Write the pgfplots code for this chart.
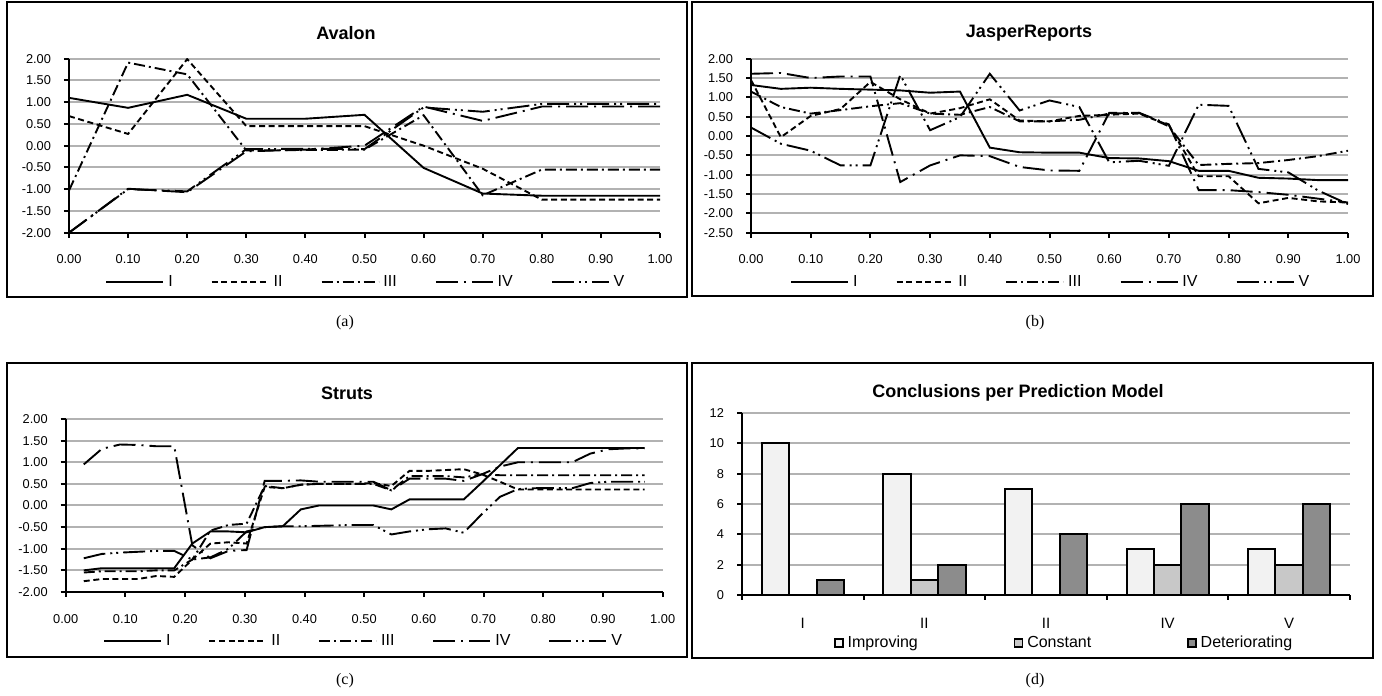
\documentclass[border=0pt]{standalone}
\usepackage{pgfplots}
\pgfplotsset{compat=1.18}
\usepackage{pgfplotstable}
\usepackage{fontspec}
\setmainfont{Liberation Sans}
\newfontfamily\capfont{Liberation Serif}

\definecolor{gridc}{RGB}{178,178,178}
\definecolor{impc}{RGB}{242,242,242}
\definecolor{conc}{RGB}{200,200,200}
\definecolor{detc}{RGB}{140,140,140}

\pgfplotstableread{
x I II III IV V
0.0 1.10 0.68 -1.03 -2.00 -2.00
0.1 0.87 0.27 1.91 -0.99 -1.00
0.2 1.17 1.99 1.64 -1.07 -1.05
0.3 0.62 0.45 -0.11 -0.13 -0.08
0.4 0.62 0.45 -0.10 -0.09 -0.07
0.5 0.71 0.45 -0.09 0.00 -0.08
0.6 -0.51 0.00 0.70 0.90 0.88
0.7 -1.10 -0.53 -1.14 0.57 0.78
0.8 -1.15 -1.24 -0.55 0.90 0.96
0.9 -1.15 -1.24 -0.55 0.90 0.96
1.0 -1.15 -1.24 -0.55 0.90 0.96
}\avalon

\pgfplotstableread{
x I II III IV V
0.00 1.32 1.45 1.15 1.61 0.22
0.05 1.22 -0.03 0.75 1.63 -0.20
0.10 1.25 0.52 0.58 1.50 -0.38
0.15 1.22 0.70 0.67 1.54 -0.76
0.20 1.20 1.40 0.77 1.54 -0.76
0.25 1.18 0.95 0.85 -1.19 1.58
0.30 1.12 0.58 0.58 -0.76 0.15
0.35 1.15 0.72 0.55 -0.50 0.49
0.40 -0.30 0.95 0.75 -0.52 1.61
0.45 -0.42 0.40 0.38 -0.80 0.66
0.50 -0.43 0.38 0.38 -0.89 0.92
0.55 -0.43 0.52 0.42 -0.90 0.75
0.60 -0.57 0.55 0.58 0.60 -0.68
0.65 -0.58 0.58 0.60 0.60 -0.64
0.70 -0.65 0.28 0.25 0.30 -0.77
0.75 -0.90 -1.04 -0.75 -1.40 0.81
0.80 -0.90 -1.04 -0.72 -1.40 0.78
0.85 -1.08 -1.74 -0.70 -1.45 -0.85
0.90 -1.10 -1.60 -0.62 -1.52 -0.94
0.95 -1.14 -1.69 -0.52 -1.62 -1.41
1.00 -1.14 -1.72 -0.38 -1.72 -1.76
}\jasper

\pgfplotstableread{
x I II III IV V
0.0303 -1.50 -1.75 -1.55 0.95 -1.22
0.0606 -1.45 -1.70 -1.52 1.31 -1.12
0.0909 -1.45 -1.70 -1.52 1.41 -1.09
0.1212 -1.45 -1.70 -1.52 1.40 -1.07
0.1515 -1.45 -1.63 -1.50 1.37 -1.05
0.1818 -1.45 -1.65 -1.50 1.37 -1.05
0.2121 -0.88 -1.25 -1.25 -0.92 -1.25
0.2424 -0.60 -0.88 -0.58 -1.22 -1.20
0.2727 -0.60 -0.85 -0.45 -1.05 -1.00
0.3030 -0.62 -0.88 -0.42 -1.03 -0.60
0.3333 -0.50 0.43 0.45 0.57 -0.50
0.3636 -0.48 0.40 0.40 0.57 -0.48
0.3939 -0.09 0.48 0.48 0.58 -0.48
0.4242 0.00 0.50 0.50 0.55 -0.47
0.4545 0.00 0.50 0.50 0.55 -0.46
0.4848 0.00 0.50 0.50 0.55 -0.45
0.5152 0.00 0.52 0.50 0.55 -0.45
0.5455 -0.09 0.45 0.35 0.35 -0.67
0.5758 0.14 0.80 0.68 0.62 -0.60
0.6061 0.14 0.80 0.68 0.62 -0.55
0.6364 0.14 0.82 0.68 0.62 -0.53
0.6667 0.14 0.84 0.65 0.57 -0.63
0.6970 0.53 0.72 0.72 0.72 -0.20
0.7273 0.93 0.55 0.70 0.90 0.20
0.7576 1.33 0.37 0.70 1.00 0.38
0.7879 1.33 0.37 0.70 1.00 0.40
0.8182 1.33 0.37 0.70 1.00 0.40
0.8485 1.33 0.37 0.70 1.00 0.40
0.8788 1.33 0.37 0.70 1.20 0.52
0.9091 1.33 0.37 0.70 1.30 0.55
0.9394 1.33 0.37 0.70 1.32 0.55
0.9697 1.33 0.37 0.70 1.32 0.55
}\struts

\tikzset{
  sI/.style={black, line width=0.95pt, solid},
  sII/.style={black, line width=0.95pt, dash pattern=on 3pt off 1.8pt},
  sIII/.style={black, line width=0.95pt, dash pattern=on 5.5pt off 2pt on 1pt off 2pt},
  sIV/.style={black, line width=0.95pt, dash pattern=on 11pt off 3pt on 1pt off 3pt},
  sV/.style={black, line width=0.95pt, dash pattern=on 11pt off 2.5pt on 1pt off 2pt on 1pt off 2.5pt},
}

\pgfplotsset{
  linechart/.style={
    scale only axis,
    axis lines*=left,
    axis line style={line width=1pt, black},
    tick align=outside,
    major tick length=2.5pt,
    tick style={line width=1pt, black},
    ymajorgrids,
    grid style={line width=1pt, gridc},
    xmin=0, xmax=1,
    xtick={0,0.1,0.2,0.3,0.4,0.5,0.6,0.7,0.8,0.9,1},
    xticklabels={0.00,0.10,0.20,0.30,0.40,0.50,0.60,0.70,0.80,0.90,1.00},
    tick label style={font=\fontsize{6.4}{7.5}\selectfont},
    xticklabel style={yshift=-5pt},
    yticklabel style={xshift=-3pt},
    legend columns=5,
    legend cell align=left,
    legend style={draw=none, fill=none, inner sep=0pt, anchor=west,
      font=\fontsize{8}{9}\selectfont,
      /tikz/every even column/.append style={column sep=17pt}},
    legend image code/.code={\draw[##1] (0pt,0pt) -- (28.5pt,0pt);},
  },
}

\begin{document}
\begin{tikzpicture}
\useasboundingbox (0,0) rectangle (691pt,348pt);

% frames
\draw[line width=1.2pt] (3.5pt,347pt) rectangle (343.5pt,199.5pt);
\draw[line width=1.2pt] (346pt,347pt) rectangle (686.5pt,200pt);
\draw[line width=1.2pt] (3.5pt,166.5pt) rectangle (343.5pt,19.5pt);
\draw[line width=1.2pt] (346pt,166.5pt) rectangle (686.5pt,19pt);

% (a) Avalon
\begin{axis}[linechart, at={(34.5pt,231.65pt)}, anchor=south west,
  width=295.5pt, height=87pt, ymin=-2, ymax=2,
  ytick={-2,-1.5,-1,-0.5,0,0.5,1,1.5,2},
  yticklabels={-2.00,-1.50,-1.00,-0.50,0.00,0.50,1.00,1.50,2.00},
  legend style={at={(0.061,-0.285)}}]
\addplot[sI] table[x=x,y=I] {\avalon};
\addplot[sII] table[x=x,y=II] {\avalon};
\addplot[sIII] table[x=x,y=III] {\avalon};
\addplot[sIV] table[x=x,y=IV] {\avalon};
\addplot[sV] table[x=x,y=V] {\avalon};
\legend{I,II,III,IV,V}
\end{axis}

% (b) JasperReports
\begin{axis}[linechart, at={(375.5pt,231.65pt)}, anchor=south west,
  width=298.5pt, height=87pt, ymin=-2.5, ymax=2,
  ytick={-2.5,-2,-1.5,-1,-0.5,0,0.5,1,1.5,2},
  yticklabels={-2.50,-2.00,-1.50,-1.00,-0.50,0.00,0.50,1.00,1.50,2.00},
  legend style={at={(0.065,-0.285)}}]
\addplot[sI] table[x=x,y=I] {\jasper};
\addplot[sII] table[x=x,y=II] {\jasper};
\addplot[sIII] table[x=x,y=III] {\jasper};
\addplot[sIV] table[x=x,y=IV] {\jasper};
\addplot[sV] table[x=x,y=V] {\jasper};
\legend{I,II,III,IV,V}
\end{axis}

% (c) Struts
\begin{axis}[linechart, at={(32.85pt,52pt)}, anchor=south west,
  width=298.5pt, height=86.5pt, ymin=-2, ymax=2,
  ytick={-2,-1.5,-1,-0.5,0,0.5,1,1.5,2},
  yticklabels={-2.00,-1.50,-1.00,-0.50,0.00,0.50,1.00,1.50,2.00},
  legend style={at={(0.062,-0.285)}}]
\addplot[sI] table[x=x,y=I] {\struts};
\addplot[sII] table[x=x,y=II] {\struts};
\addplot[sIII] table[x=x,y=III] {\struts};
\addplot[sIV] table[x=x,y=IV] {\struts};
\addplot[sV] table[x=x,y=V] {\struts};
\legend{I,II,III,IV,V}
\end{axis}

% (d) bars
\begin{axis}[scale only axis, at={(371pt,50.5pt)}, anchor=south west,
  width=304pt, height=91pt,
  xmin=0, xmax=5, ymin=0, ymax=12,
  axis lines*=left,
  axis line style={line width=1pt, black},
  tick align=outside, major tick length=2.5pt,
  tick style={line width=1pt, black},
  ymajorgrids, grid style={line width=1pt, gridc},
  ytick={0,2,4,6,8,10,12},
  yticklabels={0,2,4,6,8,10,12},
  xtick={0,1,2,3,4,5}, xticklabels={},
  extra x ticks={0.5,1.5,2.5,3.5,4.5},
  extra x tick labels={I,II,II,IV,V},
  extra x tick style={major tick length=0pt,
    tick label style={font=\fontsize{7.5}{9}\selectfont, yshift=-8pt}},
  yticklabel style={font=\fontsize{6.4}{7.5}\selectfont, xshift=-3pt},
  ybar=0pt, bar width=13.7pt,
  legend columns=3,
  legend style={draw=none, fill=none, inner sep=0pt, anchor=west,
    at={(0.151,-0.264)}, font=\fontsize{8}{9}\selectfont,
    /tikz/every even column/.append style={column sep=46pt}},
  legend image code/.code={\draw[#1, line width=0.7pt] (0pt,-2pt) rectangle (4pt,2pt);},
]
\addplot[fill=impc, draw=black, line width=1pt] coordinates {(0.5,10) (1.5,8) (2.5,7) (3.5,3) (4.5,3)};
\addplot[fill=conc, draw=black, line width=1pt] coordinates {(0.5,0) (1.5,1) (2.5,0) (3.5,2) (4.5,2)};
\addplot[fill=detc, draw=black, line width=1pt] coordinates {(0.5,1) (1.5,2) (2.5,4) (3.5,6) (4.5,6)};
\legend{Improving,Constant,Deteriorating}
\end{axis}

% titles
\node[font=\bfseries\fontsize{9}{11}\selectfont] at (173pt,331.5pt) {Avalon};
\node[font=\bfseries\fontsize{9}{11}\selectfont] at (514.5pt,331.5pt) {JasperReports};
\node[font=\bfseries\fontsize{9}{11}\selectfont] at (173.5pt,151.5pt) {Struts};
\node[font=\bfseries\fontsize{9}{11}\selectfont] at (509pt,151.5pt) {Conclusions per Prediction Model};

% captions
\node[font=\capfont\fontsize{8}{9}\selectfont] at (172.5pt,186.5pt) {(a)};
\node[font=\capfont\fontsize{8}{9}\selectfont] at (517.5pt,186.5pt) {(b)};
\node[font=\capfont\fontsize{8}{9}\selectfont] at (172.5pt,7.5pt) {(c)};
\node[font=\capfont\fontsize{8}{9}\selectfont] at (517.5pt,7.5pt) {(d)};
\end{tikzpicture}
\end{document}
